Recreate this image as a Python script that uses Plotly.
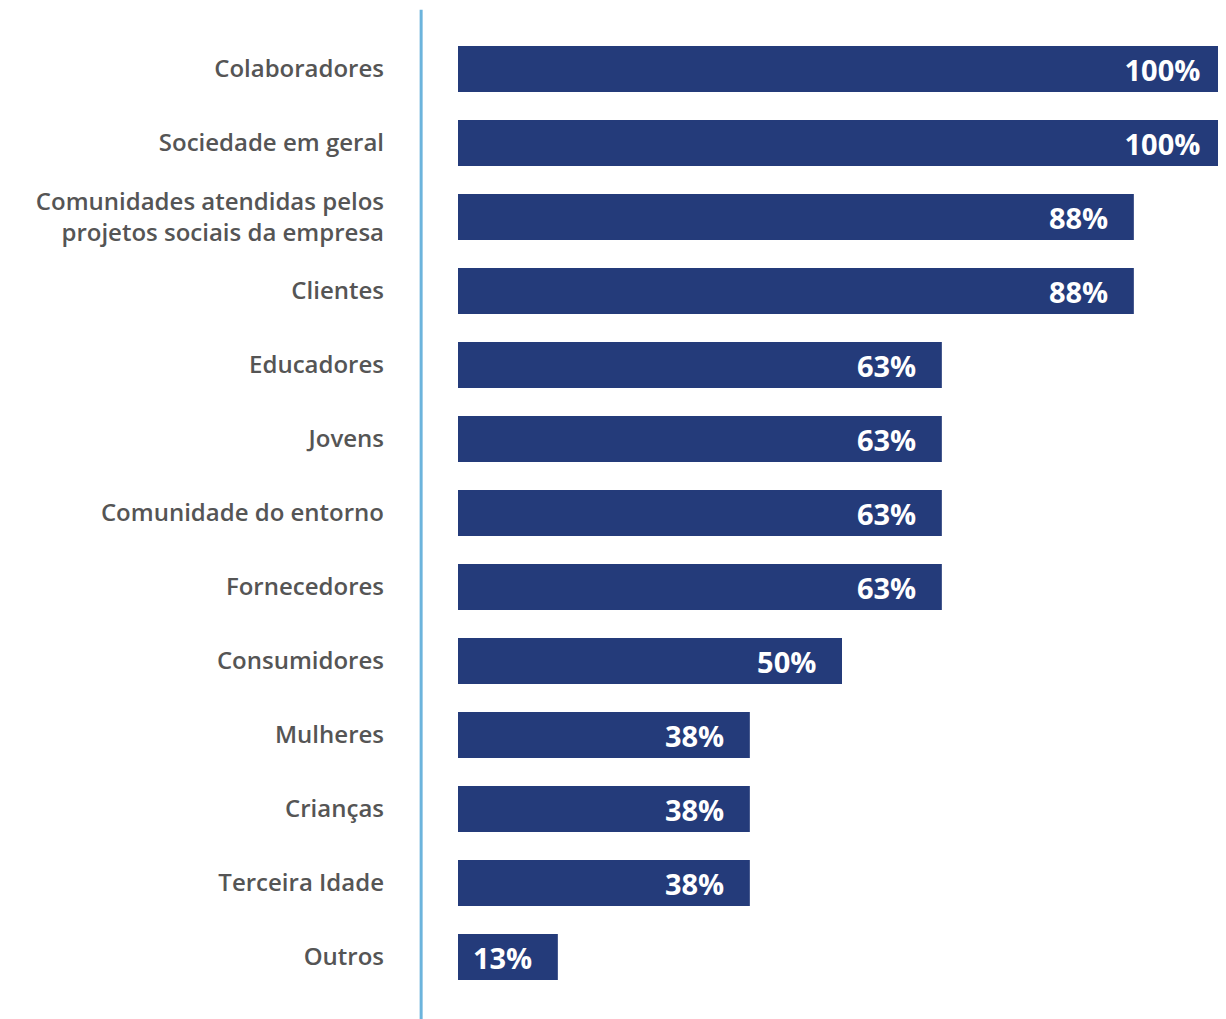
import plotly.graph_objects as go

NAVY = "#243b7a"
GREY = "#555555"
LINE_BLUE = "#6cb4dc"

categories = [
    "Colaboradores",
    "Sociedade em geral",
    "Comunidades atendidas pelos<br>projetos sociais da empresa",
    "Clientes",
    "Educadores",
    "Jovens",
    "Comunidade do entorno",
    "Fornecedores",
    "Consumidores",
    "Mulheres",
    "Crianças",
    "Terceira Idade",
    "Outros",
]
values = [100, 100, 88, 88, 63, 63, 63, 63, 50, 38, 38, 38, 13]

pad = "\u00a0" * 3
labels = [f"{v}%{pad}" for v in values]

fig = go.Figure(go.Bar(
    x=values, y=categories, orientation="h",
    marker=dict(color=NAVY, line=dict(width=0)),
    text=labels, textposition="inside", insidetextanchor="end",
    textfont=dict(family="Open Sans", size=29, color="white", weight=700),
    hoverinfo="skip",
))

# vertical divider left of the bars
fig.add_shape(type="line", xref="paper", yref="paper",
              x0=-0.048, x1=-0.048, y0=-0.034, y1=1.023,
              line=dict(color=LINE_BLUE, width=3))

fig.update_yaxes(autorange="reversed", showgrid=False, zeroline=False,
                 showline=False, ticks="", ticklabelstandoff=73,
                 tickfont=dict(family="Open Sans", size=24, color=GREY, weight=600))
fig.update_xaxes(range=[0, 100], visible=False, showgrid=False, zeroline=False)

# page body adds an 8px offset, so the figure is 8px smaller
fig.update_layout(
    width=1218, height=1011,
    margin=dict(l=450, r=0, t=24, b=25),
    bargap=0.378,
    plot_bgcolor="white", paper_bgcolor="white",
    showlegend=False,
    uniformtext=dict(minsize=29, mode="show"),
)

fig.write_html("out.html")
